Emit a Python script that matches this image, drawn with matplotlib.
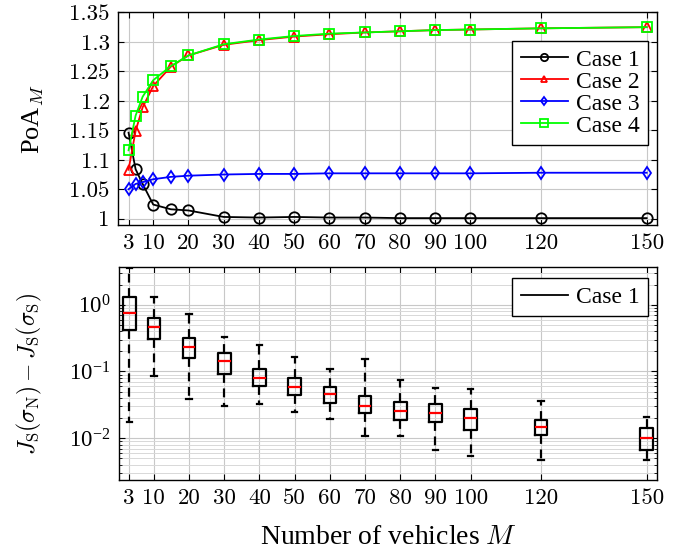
import numpy as np
import matplotlib
matplotlib.use("Agg")
import matplotlib.pyplot as plt
from matplotlib.lines import Line2D
from matplotlib.ticker import LogLocator, NullFormatter

plt.rcParams['font.family'] = ['Liberation Serif', 'DejaVu Serif']
plt.rcParams['mathtext.fontset'] = 'cm'
plt.rcParams['font.size'] = 16

# -----------------------------
# DATA
# -----------------------------
M_top = [3, 5, 7, 10, 15, 20, 30, 40, 50, 60, 70, 80, 90, 100, 120, 150]
case1 = [1.146, 1.084, 1.059, 1.024, 1.016, 1.014, 1.003, 1.002, 1.003, 1.002,
         1.002, 1.001, 1.001, 1.001, 1.001, 1.001]
case2 = [1.083, 1.149, 1.189, 1.225, 1.258, 1.277, 1.295, 1.303, 1.309, 1.313,
         1.316, 1.318, 1.320, 1.321, 1.323, 1.325]
case3 = [1.050, 1.059, 1.062, 1.067, 1.071, 1.073, 1.075, 1.076, 1.076, 1.077,
         1.077, 1.077, 1.077, 1.077, 1.078, 1.078]
case4 = [1.116, 1.175, 1.207, 1.235, 1.259, 1.277, 1.296, 1.304, 1.310, 1.314,
         1.316, 1.318, 1.320, 1.321, 1.323, 1.325]

M_box = [3, 10, 20, 30, 40, 50, 60, 70, 80, 90, 100, 120, 150]
whis_hi = [3.55, 1.33, 0.733, 0.331, 0.254, 0.166, 0.110, 0.155, 0.0733, 0.0562, 0.0543, 0.0362, 0.0210]
q3 = [1.33, 0.645, 0.323, 0.189, 0.108, 0.0805, 0.059, 0.0427, 0.0348, 0.0324, 0.0276, 0.019, 0.014]
med = [0.767, 0.473, 0.232, 0.145, 0.081, 0.059, 0.0457, 0.0307, 0.0255, 0.0239, 0.0204, 0.0145, 0.0100]
q1 = [0.412, 0.309, 0.159, 0.093, 0.0603, 0.0437, 0.034, 0.0235, 0.019, 0.0176, 0.0134, 0.0112, 0.0067]
whis_lo = [0.0175, 0.087, 0.0386, 0.0299, 0.0324, 0.0246, 0.0195, 0.0106, 0.0106, 0.0067, 0.0054, 0.0047, 0.0047]

xticks = [3, 10, 20, 30, 40, 50, 60, 70, 80, 90, 100, 120, 150]
yticks_top = [1, 1.05, 1.1, 1.15, 1.2, 1.25, 1.3, 1.35]
ytick_labels_top = ['1', '1.05', '1.1', '1.15', '1.2', '1.25', '1.3', '1.35']

# -----------------------------
# FIGURE
# -----------------------------
fig = plt.figure(figsize=(6.94, 5.52), dpi=100)
ax1 = fig.add_axes([0.170, 0.5915, 0.777, 0.386])
ax2 = fig.add_axes([0.171, 0.130, 0.776, 0.386])

grid_kw = dict(color='#c8c8c8', linewidth=0.8)
leg_kw = dict(loc='upper right', fancybox=False, edgecolor='k', framealpha=1,
              handlelength=2.0, handletextpad=0.35, borderpad=0.35,
              borderaxespad=0, labelspacing=0.02, fontsize=17)

# top: PoA
ax1.plot(M_top, case1, color='k', marker='o', mfc='none', ms=7.5, mew=1.3, lw=1.3, label='Case 1')
ax1.plot(M_top, case2, color='r', marker='^', mfc='none', ms=6.5, mew=1.3, lw=1.3, label='Case 2')
ax1.plot(M_top, case3, color='b', marker='d', mfc='none', ms=6.5, mew=1.3, lw=1.3, label='Case 3')
ax1.plot(M_top, case4, color='#00ff00', marker='s', mfc='none', ms=7.5, mew=1.3, lw=1.3, label='Case 4')
ax1.set_xlim(0, 153)
ax1.set_ylim(0.9885, 1.35)
ax1.set_xticks(xticks)
ax1.set_yticks(yticks_top)
ax1.set_yticklabels(ytick_labels_top)
ax1.grid(True, **grid_kw)
ax1.set_axisbelow(True)
ax1.set_ylabel('PoA$_M$', fontsize=19, labelpad=17)
ax1.legend(bbox_to_anchor=(0.983, 0.867), markerscale=0.7, **leg_kw)

# bottom: boxplots
stats = []
for i in range(len(M_box)):
    stats.append(dict(med=med[i], q1=q1[i], q3=q3[i], whislo=whis_lo[i],
                      whishi=whis_hi[i], fliers=[]))
ax2.set_yscale('log')
ax2.bxp(stats, positions=M_box, widths=3.6, capwidths=1.5, showfliers=False,
        manage_ticks=False,
        boxprops=dict(color='k', linewidth=1.6),
        whiskerprops=dict(color='k', linestyle=(0, (4, 2.5)), linewidth=1.6),
        capprops=dict(color='k', linewidth=1.6),
        medianprops=dict(color='r', linewidth=1.6))
ax2.set_xlim(0, 153)
ax2.set_ylim(2.34e-3, 3.67)
ax2.set_xticks(xticks)
ax2.yaxis.set_major_locator(LogLocator(base=10, numticks=10))
ax2.yaxis.set_minor_locator(LogLocator(base=10, subs=np.arange(2, 10), numticks=20))
ax2.yaxis.set_minor_formatter(NullFormatter())
ax2.grid(True, which='major', **grid_kw)
ax2.grid(True, which='minor', axis='y', color='#d8d8d8', linewidth=0.7)
ax2.set_axisbelow(True)
ax2.set_ylabel(r'$J_\mathrm{S}(\sigma_\mathrm{N})-J_\mathrm{S}(\sigma_\mathrm{S})$', fontsize=17, labelpad=18)
ax2.set_xlabel('Number of vehicles $M$', fontsize=20, labelpad=12)
ax2.legend([Line2D([0], [0], color='k', lw=1.3)], ['Case 1'],
           bbox_to_anchor=(0.983, 0.948), **leg_kw)

for ax in (ax1, ax2):
    ax.tick_params(which='major', direction='in', top=True, right=True, length=4,
                   width=0.8, labelsize=16.5, pad=6)
    ax.tick_params(which='minor', direction='in', top=True, right=True, length=2.5, width=0.6)
    for lab in ax.get_xticklabels():
        lab.set_fontfamily('cmr10')
    for sp in ax.spines.values():
        sp.set_linewidth(1.0)
for lab in ax1.get_yticklabels():
    lab.set_fontfamily('cmr10')

fig.savefig('out.png', dpi=100)
